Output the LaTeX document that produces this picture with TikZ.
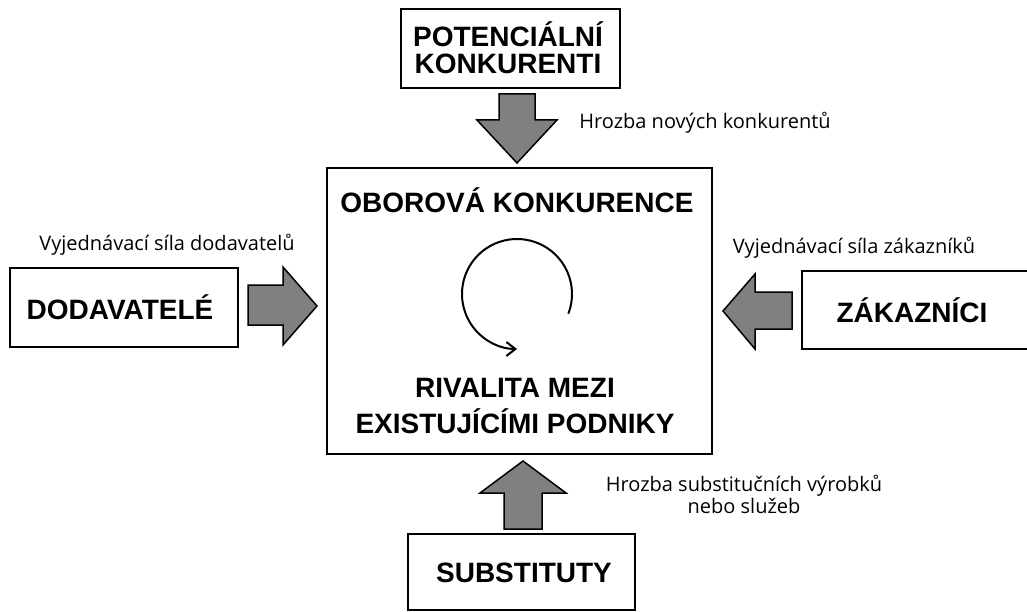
\documentclass[tikz,border=0pt]{standalone}
\usepackage{fontspec}
\setmainfont{Liberation Sans}
\newfontfamily\notefont{Open Sans}
\usetikzlibrary{arrows.meta}

\tikzset{
  box/.style={draw=black, line width=2.5bp, fill=white, inner sep=0pt},
  title/.style={font=\bfseries\fontsize{28bp}{27bp}\selectfont, align=center, inner sep=0pt},
  force/.style={fill=black!50, draw=black, line width=1.5bp, line join=miter},
  note/.style={font=\notefont\fontsize{20bp}{22bp}\selectfont, align=center, inner sep=0pt},
}

\begin{document}
\begin{tikzpicture}[x=1bp,y=-1bp]
\useasboundingbox (0,0) rectangle (1027,612);

% boxes
\node[box, minimum width=219bp, minimum height=79bp] (potencial) at (510.5,48.5) {};
\node[box, minimum width=385bp, minimum height=286bp] (obor) at (519.5,311) {};
\node[box, minimum width=228bp, minimum height=79bp] (dodav) at (124,307.5) {};
\node[box, minimum width=240bp, minimum height=78bp] (zakaz) at (922,310) {};
\node[box, minimum width=227bp, minimum height=76bp] (subst) at (521.5,572) {};

% texts
\node[title] (potencialtext) at (508,48) {POTENCIÁLNÍ\\KONKURENTI};
\node[title] (dodavtext) at (120,307) {DODAVATELÉ};
\node[title] (zakaztext) at (912,310) {ZÁKAZNÍCI};
\node[title] (substtext) at (524,573) {SUBSTITUTY};
\node[title] (oborova) at (517,200) {OBOROVÁ KONKURENCE};
\node[title, font=\bfseries\fontsize{28bp}{36bp}\selectfont] (rivalita) at (515,406.5)
     {RIVALITA MEZI\\EXISTUJÍCÍMI PODNIKY};

% the five forces
\draw[force] (499,94) -- (535,94) -- (535,120) -- (557,120) -- (517,163)
             -- (477,120) -- (499,120) -- cycle;
\draw[force] (248,285) -- (283,285) -- (283,267) -- (317,306) -- (283,345)
             -- (283,325) -- (248,325) -- cycle;
\draw[force] (792,292) -- (755,292) -- (755,274) -- (723,311) -- (755,349)
             -- (755,329) -- (792,329) -- cycle;
\draw[force] (504,529) -- (504,493) -- (480,493) -- (523,461) -- (566,493)
             -- (542,493) -- (542,529) -- cycle;

% rivalry circle
\draw[line width=2bp, -{Straight Barb[length=9bp,width=14bp]}]
     ([shift={(21:55)}]517,294) arc[start angle=21, end angle=-270, radius=55];

% labels
\node[note] (hrozbanovych) at (705,123) {Hrozba nových konkurentů};
\node[note] (silados) at (167,245) {Vyjednávací síla dodavatelů};
\node[note] (silazak) at (854,248) {Vyjednávací síla zákazníků};
\node[note] (hrozbasubst) at (744,494) {Hrozba substitučních výrobků\\nebo služeb};
\end{tikzpicture}
\end{document}
